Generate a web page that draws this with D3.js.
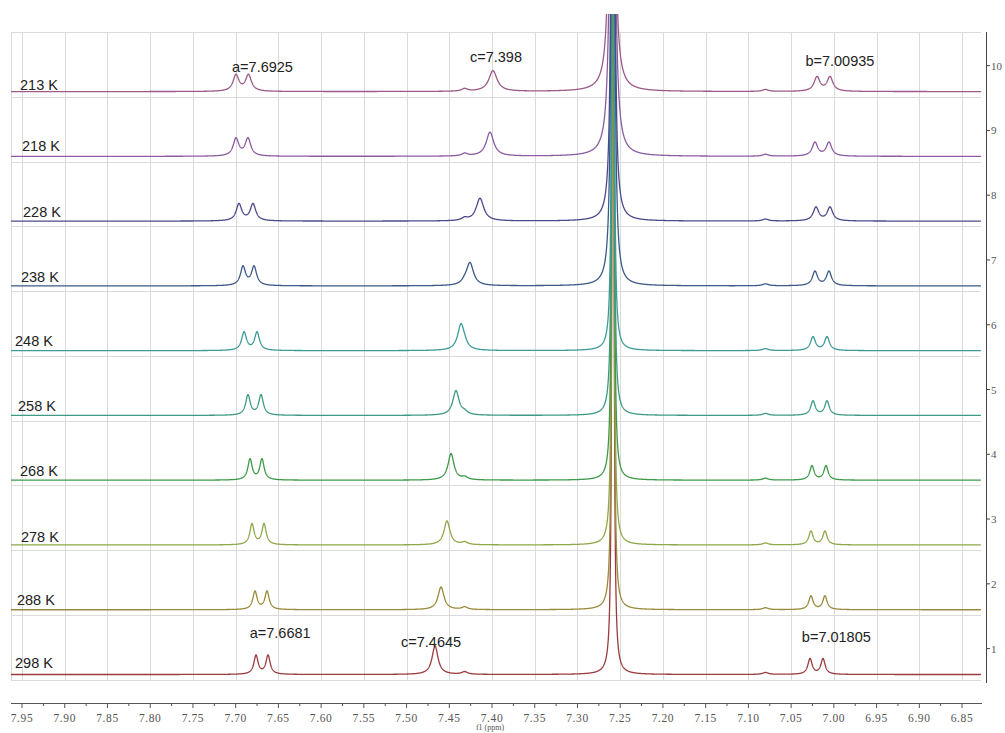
<!DOCTYPE html>
<html><head><meta charset="utf-8">
<script src="https://cdn.jsdelivr.net/npm/d3@7"></script>
<style>body{margin:0;background:#fff}svg{display:block}</style>
</head><body><svg id="c" width="1005" height="733"></svg>
<script>
// rows listed top to bottom
const temperatures = ["213 K","218 K","228 K","238 K","248 K","258 K","268 K","278 K","288 K","298 K"];
const lineColors = ["#9c5a88","#8c5ca0","#4a4a8a","#3c5a88","#3f9a9a","#3e9a84","#3e9a48","#8ea84a","#9a8a3c","#9a3c3c"];
// doublet a
const aLeft   = [7.6996,7.6996,7.6961,7.6914,7.6902,7.6856,7.6832,7.6809,7.6774,7.6762];
const aRight  = [7.6850,7.6856,7.6797,7.6785,7.6750,7.6703,7.6692,7.6668,7.6633,7.6621];
const aHeight = [0.25,0.27,0.26,0.29,0.28,0.31,0.32,0.32,0.28,0.29];
const aWidth  = [0.0041,0.0039,0.0039,0.0036,0.0034,0.0032,0.0030,0.0030,0.0030,0.0030];
// singlet c
const cPos    = [7.3989,7.4024,7.4141,7.4258,7.4363,7.4422,7.4480,7.4527,7.4597,7.4667];
const cHeight = [0.32,0.37,0.35,0.35,0.40,0.38,0.41,0.37,0.35,0.44];
const cWidth  = [0.0058,0.0053,0.0053,0.0050,0.0047,0.0044,0.0042,0.0042,0.0042,0.0042];
// doublet b
const bLeft   = [7.0197,7.0221,7.0209,7.0221,7.0244,7.0244,7.0256,7.0268,7.0268,7.0279];
const bRight  = [7.0045,7.0057,7.0045,7.0057,7.0080,7.0080,7.0092,7.0104,7.0104,7.0127];
const bHeight = [0.22,0.21,0.21,0.22,0.21,0.22,0.22,0.21,0.21,0.24];
const bWidth  = [0.0041,0.0039,0.0039,0.0036,0.0034,0.0032,0.0030,0.0030,0.0030,0.0030];
// solvent (CHCl3) peak, off scale
const solventPos    = [7.2595,7.2590,7.2585,7.2585,7.2585,7.2585,7.2585,7.2585,7.2585,7.2585];
const solventHeight = [14,14,20,20,26,26,26,26,26,26];
const solventWidth  = [0.0020,0.0020,0.0013,0.0013,0.0008,0.0008,0.0008,0.0008,0.0008,0.0008];
// small impurity peaks
const minorPos    = [7.432, 7.080];
const minorHeight = [0.04, 0.03];
const minorWidth  = [0.004, 0.004];

const xTickValues = [7.95,7.90,7.85,7.80,7.75,7.70,7.65,7.60,7.55,7.50,7.45,7.40,7.35,7.30,7.25,7.20,7.15,7.10,7.05,7.00,6.95,6.90,6.85];
const yTickValues = [1,2,3,4,5,6,7,8,9,10];

// annotations: text, ppm of centre, row
const peakLabels = [
  {text:"a=7.6925", ppm:7.6686, row:0, dy:-20},
  {text:"c=7.398",  ppm:7.3954, row:0, dy:-30},
  {text:"b=7.00935",ppm:6.9929, row:0, dy:-26},
  {text:"a=7.6681", ppm:7.6479, row:9, dy:-37},
  {text:"c=7.4645", ppm:7.4713, row:9, dy:-28},
  {text:"b=7.01805",ppm:6.9971, row:9, dy:-33}
];
const tempLabelPpm = [7.9523,7.9500,7.9488,7.9512,7.9582,7.9547,7.9523,7.9512,7.9559,7.9582];
const tempLabelLift = [2,5,4,4,5,4,4,3,5,7];

const svg = d3.select("#c");
const x = d3.scaleLinear().domain([7.9629, 6.8278]).range([11, 981]);
const y = d3.scaleLinear().domain([0.5, 10.52]).range([681, 32]);
const rowBase = i => 0.6 + (temperatures.length - 1 - i);

// grid
const grid = svg.append("g").attr("stroke","#dadada").attr("stroke-width",1).attr("shape-rendering","crispEdges");
grid.selectAll("line.v").data(xTickValues).join("line")
  .attr("x1",d=>Math.round(x(d))+0.5).attr("x2",d=>Math.round(x(d))+0.5)
  .attr("y1",y(10.52)).attr("y2",y(0.52));
grid.append("line").attr("x1",11.5).attr("x2",11.5).attr("y1",y(10.52)).attr("y2",y(0.52));
grid.selectAll("line.h").data(d3.range(0,11)).join("line")
  .attr("x1",11).attr("x2",981)
  .attr("y1",d=>Math.round(y(0.52+d))+0.5).attr("y2",d=>Math.round(y(0.52+d))+0.5);

// spectra
svg.append("defs").append("clipPath").attr("id","clip")
  .append("rect").attr("x",11).attr("y",14).attr("width",970).attr("height",719);

const lor = (p, p0, h, w) => h * w * w / ((p - p0) * (p - p0) + w * w);
function intensity(p, i) {
  let v = lor(p, aLeft[i], aHeight[i], aWidth[i]) + lor(p, aRight[i], aHeight[i], aWidth[i])
        + lor(p, cPos[i], cHeight[i], cWidth[i])
        + lor(p, bLeft[i], bHeight[i], bWidth[i]) + lor(p, bRight[i], bHeight[i], bWidth[i])
        + lor(p, solventPos[i], solventHeight[i], solventWidth[i]);
  minorPos.forEach((m, k) => { v += lor(p, m, minorHeight[k], minorWidth[k]); });
  return v;
}
const ppmGrid = d3.range(7.9629, 6.8278, -0.0002);
const line = d3.line().x(d => x(d[0])).y(d => y(d[1]));
const spectra = svg.append("g").attr("clip-path","url(#clip)");
const order = d3.range(temperatures.length).reverse();
order.forEach(i => {
  const pts = ppmGrid.concat([solventPos[i]]).sort((a,b)=>b-a).map(p => [p, rowBase(i) + Math.min(intensity(p, i), 40)]);
  spectra.append("path").attr("d", line(pts)).attr("fill","none")
    .attr("stroke", lineColors[i]).attr("stroke-width",1.3).attr("stroke-linejoin","round");
});

// temperature labels
svg.append("g").selectAll("text").data(temperatures).join("text")
  .attr("x",(d,i)=>x(tempLabelPpm[i])).attr("y",(d,i)=>y(rowBase(i)) - tempLabelLift[i])
  .attr("font-family","Liberation Sans, Arial, sans-serif").attr("font-size",14.5).attr("fill","#222")
  .text(d=>d);

// peak labels
svg.append("g").selectAll("text").data(peakLabels).join("text")
  .attr("x",d=>x(d.ppm)).attr("y",d=>y(rowBase(d.row)) + d.dy)
  .attr("text-anchor","middle")
  .attr("font-family","Liberation Sans, Arial, sans-serif").attr("font-size",14.5).attr("fill","#222")
  .text(d=>d.text);

// bottom axis
const xAxis = svg.append("g").attr("transform","translate(0,703)");
xAxis.append("line").attr("x1",11).attr("x2",982).attr("y1",0.5).attr("y2",0.5).attr("stroke","#555");
xAxis.selectAll("line.mn").data(d3.range(7.95, 6.83, -0.025)).join("line")
  .attr("x1",d=>x(d)).attr("x2",d=>x(d)).attr("y1",0).attr("y2",(d,i)=> i%2===0 ? 5 : 3).attr("stroke","#555");
xAxis.selectAll("text").data(xTickValues).join("text")
  .attr("x",d=>x(d)).attr("y",19).attr("text-anchor","middle")
  .attr("font-family","Liberation Serif, Times New Roman, serif").attr("font-size",11.5).attr("fill","#555")
  .attr("letter-spacing","0.6")
  .text(d=>d3.format(".2f")(d));
svg.append("text").attr("x",490).attr("y",730).attr("text-anchor","middle")
  .attr("font-family","Liberation Serif, serif").attr("font-size",8).attr("fill","#555").text("f1 (ppm)");

// right axis
const yAxis = svg.append("g").attr("transform","translate(986,0)");
yAxis.append("line").attr("x1",0.5).attr("x2",0.5).attr("y1",32).attr("y2",683).attr("stroke","#444");
yAxis.selectAll("line.t").data(yTickValues).join("line")
  .attr("x1",0).attr("x2",4).attr("y1",d=>y(d)).attr("y2",d=>y(d)).attr("stroke","#444");
yAxis.selectAll("text").data(yTickValues).join("text")
  .attr("x",5).attr("y",d=>y(d)+4)
  .attr("font-family","Liberation Serif, serif").attr("font-size",11).attr("fill","#555")
  .text(d=>d);
</script></body></html>
